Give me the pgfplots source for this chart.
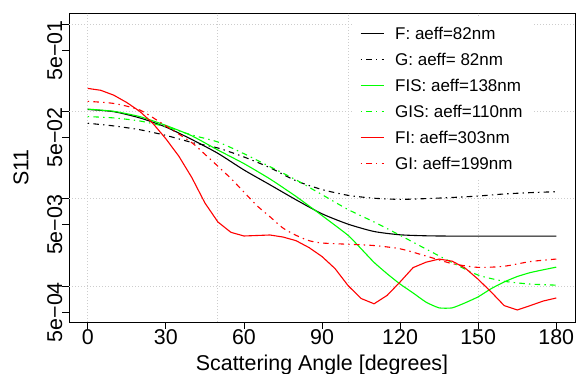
\documentclass[border=0pt]{standalone}
\usepackage{fontspec}
\setmainfont{Liberation Sans}
\usepackage{pgfplots}
\pgfplotsset{compat=1.18}
\definecolor{gridgray}{RGB}{205,205,205}
\tikzset{dotdash/.style={dash pattern=on 1.4pt off 4.2pt on 5.6pt off 4.2pt}}
\pgfplotsset{
  Rline/.style={line width=1.1pt, no marks,
    legend image code/.code={\draw[##1] (0pt,0pt) -- (23pt,0pt);}},
}
\begin{document}
\begin{tikzpicture}
\begin{axis}[
  at={(69pt,52pt)}, anchor=south west,
  scale only axis, width=506pt, height=309pt,
  xmin=-7.2, xmax=187.2,
  ymode=log, ymin=3.86e-4, ymax=1.337,
  axis line style={line width=0.8pt},
  tick align=outside, xtick pos=left, ytick pos=left,
  major tick length=7pt,
  tick style={line width=0.8pt, black},
  xminorticks=false, yminorticks=false,
  xtick={0,30,...,180}, xticklabels={0,30,60,90,120,150,180},
  ytick={0.5,0.05,0.005,0.0005}, yticklabels={5e−01,5e−02,5e−03,5e−04},
  extra x ticks={0,50,100,150}, extra x tick labels={},
  extra x tick style={grid=major, major tick length=0pt},
  extra y ticks={1,0.1,0.01,0.001}, extra y tick labels={},
  extra y tick style={grid=major},
  major grid style={gridgray, dash pattern=on 1pt off 2pt, line width=0.8pt},
  ticklabel style={font=\fontsize{21.4}{25}\selectfont},
  xticklabel style={anchor=base, yshift=-16pt},
  yticklabel style={rotate=90, anchor=base, xshift=0pt},
  label style={font=\fontsize{21.4}{25}\selectfont},
  xlabel={Scattering Angle [degrees]},
  ylabel={S11},
  xlabel style={at={(axis description cs:0.5,-0.1563)}, anchor=base},
  ylabel style={at={(axis description cs:-0.0804,0.5)}, anchor=base, rotate=0},
  legend style={at={(0.563,0.985)}, anchor=north west, draw=white, fill=white,
    inner sep=6pt, row sep=7.5pt, column sep=8pt,
    font=\fontsize{17}{20}\selectfont,
    nodes={text height=12.5pt, text depth=0pt, inner sep=3pt}},
  legend cell align=left,
]
\addplot[Rline, color=black, smooth, tension=0.4] coordinates {
(0,0.105)(10,0.099)(20,0.084)(30,0.066)(40,0.0475)(50,0.033)(60,0.0213)(70,0.0144)(80,0.0097)(90,0.0067)(100,0.0051)(110,0.0042)(120,0.00385)(130,0.00375)(140,0.00372)(150,0.00372)(160,0.00372)(170,0.00372)(180,0.00372)};
\addlegendentry{F: aeff=82nm}
\addplot[Rline, color=black, dotdash, smooth, tension=0.4] coordinates {
(0,0.073)(10,0.068)(20,0.0615)(30,0.053)(40,0.0440)(50,0.038)(60,0.0300)(70,0.0226)(80,0.016)(90,0.0127)(100,0.0109)(110,0.0101)(120,0.0098)(130,0.0100)(140,0.0103)(150,0.0107)(160,0.0113)(170,0.0117)(180,0.0120)};
\addlegendentry{G: aeff= 82nm}
\addplot[Rline, color=green, smooth, tension=0.3] coordinates {
(0,0.106)(10,0.100)(20,0.087)(30,0.069)(40,0.0524)(50,0.036)(60,0.0252)(70,0.0168)(80,0.0106)(90,0.0064)(100,0.0038)(105,0.00267)(110,0.00186)(115,0.00138)(120,0.00105)(125,0.00083)(130,0.00065)(135,0.00056)(140,0.00056)(145,0.00064)(150,0.00075)(155,0.00093)(160,0.00111)(165,0.00128)(170,0.00142)(175,0.00153)(180,0.00164)};
\addlegendentry{FIS: aeff=138nm}
\addplot[Rline, color=green, dotdash, smooth, tension=0.4] coordinates {
(0,0.087)(10,0.084)(20,0.0775)(30,0.0666)(40,0.0535)(50,0.0445)(60,0.0327)(70,0.0232)(80,0.0164)(90,0.0111)(100,0.0075)(110,0.0054)(120,0.0038)(130,0.00264)(140,0.00185)(150,0.00133)(160,0.00113)(170,0.00105)(180,0.00102)};
\addlegendentry{GIS: aeff=110nm}
\addplot[Rline, color=red] coordinates {
(0,0.183)(5,0.174)(10,0.153)(15,0.126)(20,0.0997)(25,0.0729)(30,0.0485)(35,0.0306)(40,0.0174)(45,0.00893)(50,0.0054)(55,0.00411)(60,0.00373)(65,0.00378)(70,0.00383)(75,0.00363)(80,0.0033)(85,0.00275)(90,0.00217)(95,0.00158)(100,0.00101)(105,0.000718)(110,0.000624)(115,0.000778)(120,0.00111)(125,0.00162)(130,0.00187)(135,0.00203)(140,0.00192)(145,0.00160)(150,0.00119)(155,0.000851)(160,0.000595)(165,0.00053)(170,0.000595)(175,0.000671)(180,0.000727)};
\addlegendentry{FI: aeff=303nm}
\addplot[Rline, color=red, dotdash, smooth, tension=0.4] coordinates {
(0,0.130)(10,0.123)(20,0.1035)(30,0.068)(40,0.0437)(45,0.0322)(50,0.0235)(55,0.0170)(60,0.0119)(65,0.0083)(70,0.0062)(75,0.0046)(80,0.0038)(85,0.0033)(90,0.0031)(100,0.0030)(110,0.0029)(120,0.00266)(130,0.0022)(140,0.00180)(150,0.00163)(160,0.00168)(170,0.0019)(180,0.00203)};
\addlegendentry{GI: aeff=199nm}
\end{axis}
\pgfresetboundingbox
\useasboundingbox (0,0) rectangle (578pt,374pt);
\end{tikzpicture}
\end{document}
